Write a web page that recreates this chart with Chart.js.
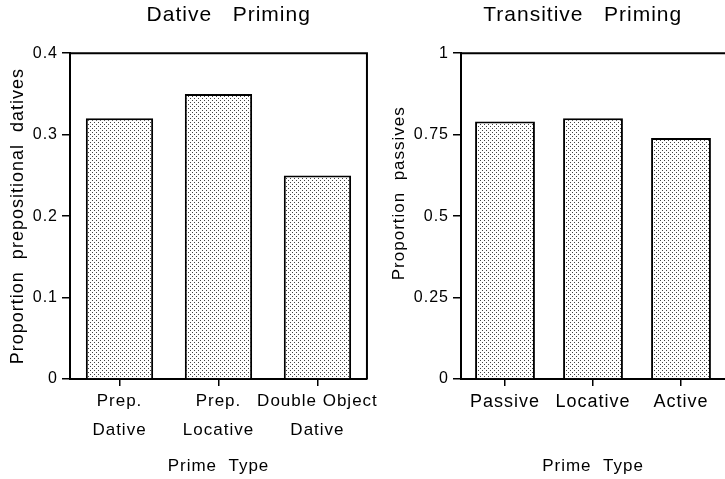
<!DOCTYPE html>
<html>
<head>
<meta charset="utf-8">
<title>Dative and Transitive Priming</title>
<script src="https://cdn.jsdelivr.net/npm/chart.js@4.4.1/dist/chart.umd.min.js"></script>
<style>
  html, body { margin: 0; padding: 0; background: #fff; }
  #wrap { position: relative; width: 725px; height: 479px; }
  #dativeChart { position: absolute; left: 0; top: 0; }
  #transitiveChart { position: absolute; left: 380px; top: 0; }
</style>
</head>
<body>
<div id="wrap">
  <canvas id="dativeChart" width="380" height="479"></canvas>
  <canvas id="transitiveChart" width="345" height="479"></canvas>
</div>
<script>
// 数据
const dativeCategories = [['Prep.', 'Dative'], ['Prep.', 'Locative'], ['Double Object', 'Dative']];
const dativeValues = [0.32, 0.35, 0.25];
const dativeTicks = [0, 0.1, 0.2, 0.3, 0.4];

const transitiveCategories = ['Passive', 'Locative', 'Active'];
const transitiveValues = [0.79, 0.80, 0.74];
const transitiveTicks = [0, 0.25, 0.5, 0.75, 1];

const FONT = '"Liberation Sans", Arial, Helvetica, sans-serif';
const INK = '#000';

/**
 * 点状填充图案
 */
function dotPattern(ctx) {
  const tile = document.createElement('canvas');
  tile.width = 4;
  tile.height = 4;
  const g = tile.getContext('2d');
  g.fillStyle = '#fff';
  g.fillRect(0, 0, 4, 4);
  g.fillStyle = '#444';
  g.fillRect(0, 0, 1, 1);
  g.fillRect(2, 2, 1, 1);
  return ctx.createPattern(tile, 'repeat');
}

// 图框上边（和右边）
const framePlugin = {
  id: 'frame',
  afterDatasetsDraw(chart, args, opts) {
    const ctx = chart.ctx;
    const a = chart.chartArea;
    ctx.save();
    ctx.strokeStyle = INK;
    ctx.lineWidth = 2;
    ctx.beginPath();
    ctx.moveTo(a.left, a.top);
    ctx.lineTo(a.right, a.top);
    if (opts.right) ctx.lineTo(a.right, a.bottom);
    ctx.stroke();
    ctx.restore();
  }
};

// 字间距（原图文字比较宽）
const spacingPlugin = {
  id: 'spacing',
  beforeLayout(chart) { chart.ctx.letterSpacing = '1px'; },
  beforeDraw(chart) { chart.ctx.letterSpacing = '1px'; }
};

/**
 * 生成一个柱状图的配置
 */
function buildConfig(el, o) {
  return {
    type: 'bar',
    data: {
      labels: o.labels,
      datasets: [{
        data: o.values,
        backgroundColor: dotPattern(el.getContext('2d')),
        borderColor: INK,
        borderWidth: 2,
        categoryPercentage: 1,
        barPercentage: 0.68
      }]
    },
    plugins: [spacingPlugin, framePlugin],
    options: {
      responsive: false,
      animation: false,
      events: [],
      layout: { padding: { right: o.padRight } },
      plugins: {
        legend: { display: false },
        tooltip: { enabled: false },
        frame: { right: o.frameRight },
        title: {
          display: true,
          text: o.title,
          fullSize: false,
          color: INK,
          font: { family: FONT, size: 21, weight: 'normal', lineHeight: 1.2 },
          padding: { top: 3, bottom: 25 }
        }
      },
      scales: {
        x: {
          afterFit: function(scale) { scale.height = 100; },
          grid: {
            offset: false,
            drawOnChartArea: false,
            tickLength: 7,
            color: INK,
            lineWidth: 1.5
          },
          border: { display: true, color: INK, width: 2 },
          ticks: {
            color: INK,
            padding: 0,
            maxRotation: 0,
            autoSkip: false,
            font: { family: FONT, size: o.xTickSize, lineHeight: 1.75 }
          },
          title: {
            display: true,
            text: 'Prime  Type',
            color: INK,
            font: { family: FONT, size: 17, lineHeight: 1.2 },
            padding: { top: 0, bottom: 2 }
          }
        },
        y: {
          min: o.ticks[0],
          max: o.ticks[o.ticks.length - 1],
          afterFit: function(scale) { scale.width = o.yWidth; },
          afterBuildTicks: function(scale) {
            scale.ticks = o.ticks.map(v => ({ value: v }));
          },
          grid: {
            drawOnChartArea: false,
            tickLength: 8,
            color: INK,
            lineWidth: 1.5
          },
          border: { display: true, color: INK, width: 2 },
          ticks: {
            color: INK,
            padding: 4,
            font: { family: FONT, size: 16 },
            callback: function(value) { return String(value); }
          },
          title: {
            display: true,
            text: o.yTitle,
            color: INK,
            font: { family: FONT, size: o.yTitleSize, lineHeight: 1.2 },
            padding: { top: o.yTitlePad, bottom: 0 }
          }
        }
      }
    }
  };
}

document.addEventListener('DOMContentLoaded', function() {
  const dativeEl = document.getElementById('dativeChart');
  new Chart(dativeEl, buildConfig(dativeEl, {
    labels: dativeCategories,
    values: dativeValues,
    ticks: dativeTicks,
    title: '   Dative   Priming',
    yTitle: 'Proportion  prepositional  datives',
    yTitleSize: 18,
    yTitlePad: 7,
    yWidth: 70,
    xTickSize: 17,
    padRight: 5,
    frameRight: true
  }));

  const transitiveEl = document.getElementById('transitiveChart');
  new Chart(transitiveEl, buildConfig(transitiveEl, {
    labels: transitiveCategories,
    values: transitiveValues,
    ticks: transitiveTicks,
    title: 'Transitive   Priming   ',
    yTitle: '        Proportion  passives',
    yTitleSize: 17,
    yTitlePad: 9,
    yWidth: 81,
    xTickSize: 18,
    padRight: 0,
    frameRight: false
  }));
});
</script>
</body>
</html>
